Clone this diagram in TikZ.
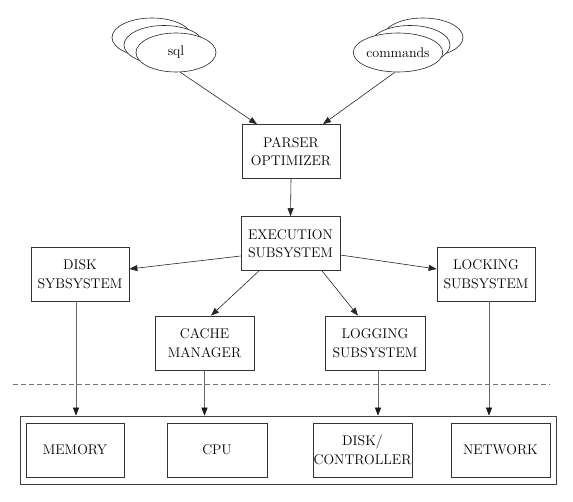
\documentclass[tikz,border=0pt]{standalone}
\usetikzlibrary{arrows.meta,shapes.geometric,calc}
\begin{document}
\begin{tikzpicture}[x=1pt,y=-1pt,
  every node/.style={font=\rmfamily\fontsize{14}{18.5}\selectfont},
  blk/.style={draw=black!80,line width=0.7pt,rectangle,inner sep=0pt,minimum width=98pt,minimum height=54pt,align=center,fill=white},
  ell/.style={draw=black!85,line width=0.6pt,ellipse,inner sep=0pt,minimum width=80pt,minimum height=39pt,fill=white},
  arr/.style={draw=black!85,line width=0.6pt,-{Triangle[length=8pt,width=6pt]}},
  vln/.style={draw=black!60,line width=0.7pt,-{Triangle[length=8pt,width=6pt,color=black!90]}},
  frame/.style={draw=black!75,line width=0.7pt,fill=none}]
\useasboundingbox (0,0) rectangle (573,502);
% input ellipses
\node[ell] (sqlA) at (152,37.5) {};
\node[ell] (sqlB) at (164,45) {};
\node[ell] (sql) at (176,52.5) {sql};
\node[ell] (cmdA) at (423,37.5) {};
\node[ell] (cmdB) at (410,45) {};
\node[ell] (cmd) at (398,52.5) {commands};
% blocks
\node[blk] (parser) at (291,151.5) {PARSER\\OPTIMIZER};
\node[blk,minimum width=99pt] (exec) at (290.5,243.5) {EXECUTION\\SUBSYSTEM};
\node[blk] (disk) at (80,274) {DISK\\SYBSYSTEM};
\node[blk] (lock) at (486,274) {LOCKING\\SUBSYSTEM};
\node[blk,minimum width=99pt] (cache) at (204.5,343) {CACHE\\MANAGER};
\node[blk,minimum width=100pt] (log) at (375,343) {LOGGING\\SUBSYSTEM};
% hardware
\node[frame,rectangle,inner sep=0pt,minimum width=536pt,minimum height=68pt] (hw) at (288,450) {};
\node[blk] (mem) at (75,450) {MEMORY};
\node[blk,minimum width=100pt] (cpu) at (217,450) {CPU};
\node[blk,minimum width=99pt] (dc) at (362.5,450) {DISK/\\CONTROLLER};
\node[blk,minimum width=99pt] (net) at (500.5,450) {NETWORK};
% dashed separator
\coordinate (dl) at (13,384);
\coordinate (dr) at (550,384);
\draw[black!55,line width=0.6pt,dash pattern=on 5pt off 3pt] (dl) -- (dr);
% arrows
\draw[arr] (sql.-78) -- ([xshift=-34pt]parser.north);
\draw[arr] (cmd.-99) -- ([xshift=32pt]parser.north);
\draw[arr] (parser.south) -- (exec.north);
\draw[arr] ([yshift=-12.5pt]exec.west) -- ([yshift=5pt]disk.east);
\draw[arr] ([yshift=-11.5pt]exec.east) -- ([yshift=5pt]lock.west);
\draw[arr] ([xshift=-31.5pt]exec.south) -- ([xshift=6.5pt]cache.north);
\draw[arr] ([xshift=31.5pt]exec.south) -- ([xshift=-17pt]log.north);
\draw[vln] ([xshift=-4pt]disk.south) -- ([xshift=-4pt]disk.south |- hw.north);
\draw[vln] (cache.south) -- (cache.south |- hw.north);
\draw[vln] ([xshift=3pt]log.south) -- ([xshift=3pt]log.south |- hw.north);
\draw[vln] ([xshift=3pt]lock.south) -- ([xshift=3pt]lock.south |- hw.north);
\end{tikzpicture}
\end{document}
